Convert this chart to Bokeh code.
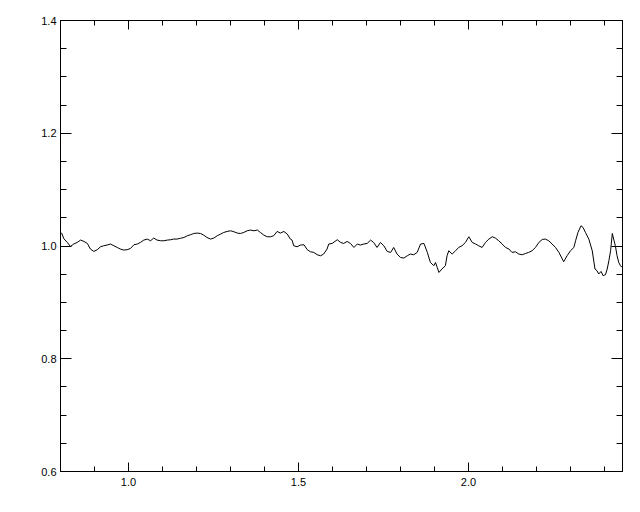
from bokeh.plotting import figure
from bokeh.models import Range1d, LinearAxis, FixedTicker, PrintfTickFormatter
from bokeh.embed import file_html
from bokeh.resources import INLINE

x_vals = [0.803, 0.810, 0.820, 0.829, 0.839, 0.849, 0.859, 0.869, 0.879, 0.888,
          0.898, 0.908, 0.918, 0.927, 0.937, 0.947, 0.957, 0.967, 0.976, 0.986,
          0.996, 1.006, 1.016, 1.026, 1.035, 1.045, 1.055, 1.065, 1.074, 1.084,
          1.094, 1.104, 1.114, 1.124, 1.133, 1.143, 1.153, 1.163, 1.173, 1.182,
          1.192, 1.202, 1.212, 1.221, 1.231, 1.241, 1.251, 1.261, 1.271, 1.280,
          1.290, 1.300, 1.310, 1.320, 1.329, 1.339, 1.349, 1.359, 1.369, 1.379,
          1.388, 1.398, 1.408, 1.418, 1.427, 1.437, 1.447, 1.457, 1.467, 1.476,
          1.481, 1.486, 1.496, 1.506, 1.516, 1.526, 1.535, 1.545, 1.555, 1.565,
          1.574, 1.584, 1.589, 1.599, 1.614, 1.624, 1.633, 1.643, 1.653, 1.663,
          1.673, 1.682, 1.692, 1.702, 1.712, 1.721, 1.731, 1.741, 1.751, 1.761,
          1.771, 1.780, 1.790, 1.800, 1.810, 1.820, 1.829, 1.839, 1.849, 1.859,
          1.869, 1.879, 1.888, 1.898, 1.903, 1.908, 1.913, 1.922, 1.932, 1.937,
          1.942, 1.952, 1.962, 1.971, 1.981, 1.991, 2.001, 2.011, 2.021, 2.030,
          2.040, 2.050, 2.060, 2.070, 2.079, 2.089, 2.099, 2.109, 2.119, 2.128,
          2.138, 2.148, 2.158, 2.168, 2.177, 2.187, 2.197, 2.207, 2.217, 2.226,
          2.236, 2.246, 2.256, 2.266, 2.276, 2.280, 2.290, 2.300, 2.310, 2.315,
          2.322, 2.331, 2.337, 2.344, 2.354, 2.364, 2.372, 2.378, 2.383, 2.390,
          2.396, 2.403, 2.408, 2.413, 2.418, 2.423, 2.427, 2.432, 2.437, 2.442,
          2.447, 2.452]

y_vals = [1.0235, 1.0128, 1.0063, 0.9992, 1.0035, 1.0063, 1.0105, 1.0081, 1.0045, 0.9946,
          0.9903, 0.9934, 0.9987, 1.0004, 1.0017, 1.0035, 1.0004, 0.9974, 0.9946, 0.9928,
          0.9934, 0.9957, 1.0022, 1.0035, 1.0063, 1.0105, 1.0123, 1.0093, 1.0141, 1.0105,
          1.0093, 1.0093, 1.0105, 1.0111, 1.0123, 1.0123, 1.0137, 1.0151, 1.0182, 1.0199,
          1.0222, 1.0229, 1.0222, 1.0194, 1.0151, 1.0123, 1.0141, 1.0182, 1.0212, 1.0240,
          1.0258, 1.0270, 1.0253, 1.0229, 1.0222, 1.0240, 1.0270, 1.0283, 1.0270, 1.0283,
          1.0240, 1.0194, 1.0164, 1.0164, 1.0182, 1.0258, 1.0229, 1.0258, 1.0212, 1.0123,
          1.0105, 1.0004, 0.9987, 1.0017, 1.0022, 0.9934, 0.9898, 0.9886, 0.9845, 0.9827,
          0.9857, 0.9946, 1.0035, 1.0045, 1.0111, 1.0063, 1.0045, 1.0081, 1.0045, 0.9974,
          1.0035, 1.0017, 1.0035, 1.0045, 1.0105, 1.0063, 0.9974, 1.0063, 1.0004, 0.9903,
          0.9886, 0.9974, 0.9857, 0.9797, 0.9786, 0.9827, 0.9857, 0.9845, 0.9886, 1.0035,
          1.0045, 0.9886, 0.9708, 0.9650, 0.9708, 0.9620, 0.9531, 0.9592, 0.9650, 0.9827,
          0.9916, 0.9857, 0.9916, 0.9974, 1.0004, 1.0063, 1.0164, 1.0063, 1.0035, 1.0004,
          0.9974, 1.0063, 1.0123, 1.0164, 1.0141, 1.0093, 1.0035, 0.9974, 0.9946, 0.9886,
          0.9898, 0.9857, 0.9845, 0.9868, 0.9886, 0.9916, 0.9974, 1.0063, 1.0116, 1.0123,
          1.0093, 1.0035, 0.9974, 0.9886, 0.9769, 0.9721, 0.9827, 0.9916, 0.9974, 1.0093,
          1.0240, 1.0359, 1.0329, 1.0240, 1.0123, 0.9916, 0.9592, 0.9561, 0.9503, 0.9549,
          0.9473, 0.9491, 0.9592, 0.9739, 0.9916, 1.0222, 1.0123, 1.0004, 0.9827, 0.9708,
          0.9650, 0.9620]

x_major = [1.0, 1.5, 2.0]
x_minor = [0.8, 0.9, 1.0, 1.1, 1.2, 1.3, 1.4, 1.5, 1.6, 1.7, 1.8, 1.9, 2.0, 2.1, 2.2, 2.3, 2.4]
y_major = [0.6, 0.8, 1.0, 1.2, 1.4]
y_minor = [0.6, 0.65, 0.7, 0.75, 0.8, 0.85, 0.9, 0.95, 1.0, 1.05, 1.1, 1.15, 1.2,
           1.25, 1.3, 1.35, 1.4]

FONT = "Liberation Sans"

p = figure(width=632, height=504, output_backend="svg", toolbar_location=None,
           x_range=Range1d(0.8, 2.453), y_range=Range1d(0.6, 1.4),
           min_border_left=60, min_border_right=10, min_border_top=20, min_border_bottom=33,
           x_axis_location=None, y_axis_location=None)
p.xgrid.visible = False
p.ygrid.visible = False
p.outline_line_color = "black"
p.outline_line_width = 1
p.background_fill_color = "white"
p.border_fill_color = "white"

p.line(x_vals, y_vals, line_color="black", line_width=1)


def style(ax, major, minor, maj_len, min_len, show_labels):
    ax.ticker = FixedTicker(ticks=major, minor_ticks=minor)
    ax.formatter = PrintfTickFormatter(format="%.1f")
    ax.axis_line_color = "black"
    ax.axis_line_width = 1
    ax.major_tick_in = maj_len
    ax.major_tick_out = 0
    ax.minor_tick_in = min_len
    ax.minor_tick_out = 0
    ax.major_tick_line_color = "black"
    ax.minor_tick_line_color = "black"
    ax.major_label_text_font = FONT
    ax.major_label_text_color = "black"
    if show_labels:
        ax.major_label_text_font_size = "11px"
    else:
        ax.major_label_text_font_size = "0px"
        ax.major_label_text_alpha = 0


xb = LinearAxis()
style(xb, x_major, x_minor, 9, 5, True)
xb.major_label_standoff = 6
p.add_layout(xb, "below")

xt = LinearAxis()
style(xt, x_major, x_minor, 9, 5, False)
xt.major_label_standoff = 0
p.add_layout(xt, "above")

yl = LinearAxis()
style(yl, y_major, y_minor, 11, 6, True)
yl.major_label_standoff = 4
p.add_layout(yl, "left")

yr = LinearAxis()
style(yr, y_major, y_minor, 11, 6, False)
yr.major_label_standoff = 0
p.add_layout(yr, "right")

open("out.html", "w").write(file_html(p, INLINE))
